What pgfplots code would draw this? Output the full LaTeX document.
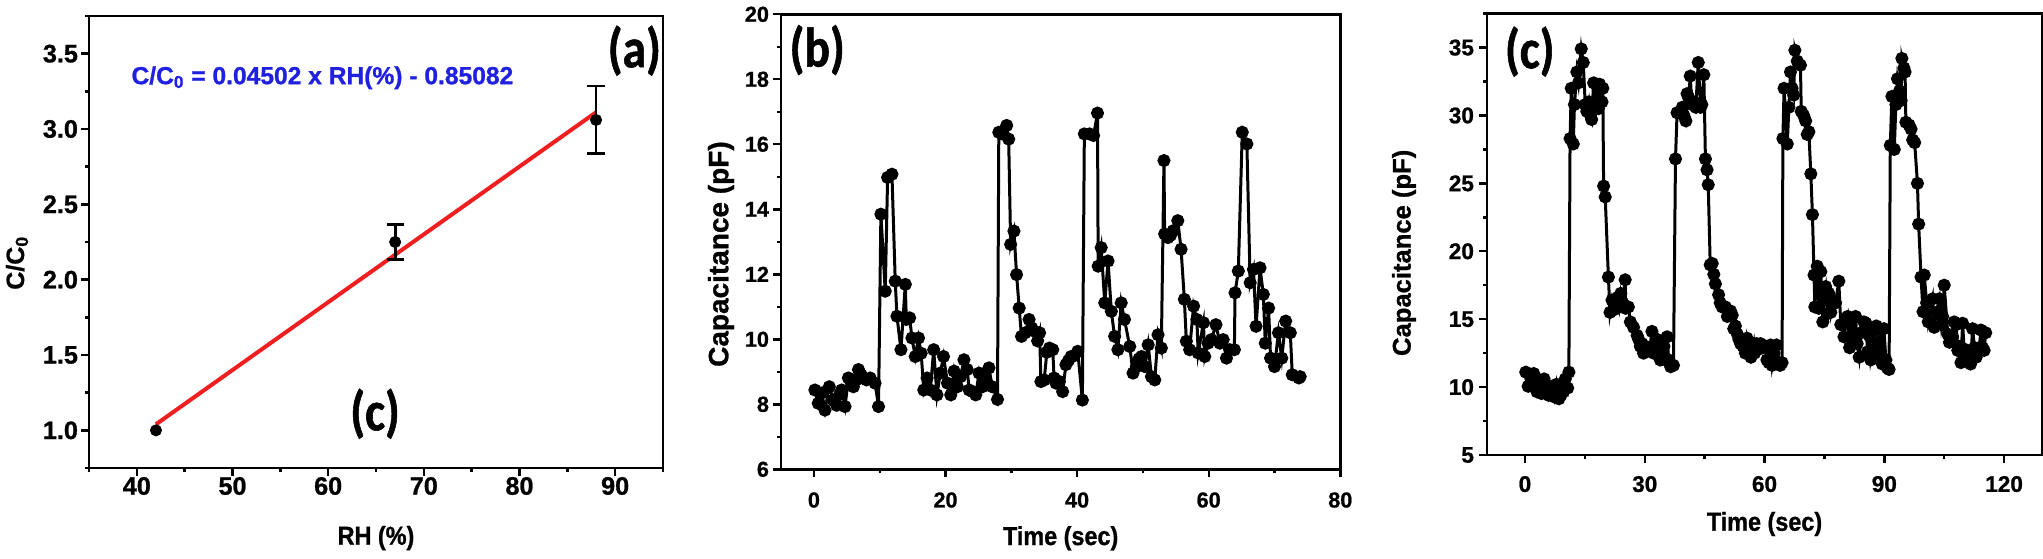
\documentclass[border=0pt]{standalone}
\usepackage{fontspec}
\setmainfont{Liberation Sans}[FakeStretch=0.9, BoldFeatures={FakeBold=1}]
\newfontfamily\plainfont{Liberation Sans}[BoldFeatures={FakeBold=1}]
\newfontfamily\panelfont{Carlito}[FakeStretch=0.85, BoldFeatures={FakeBold=1}]
\usepackage{pgfplots}
\pgfplotsset{compat=1.18}
\usepackage{pgfplotstable}
\definecolor{eqblue}{RGB}{32,32,224}
\definecolor{fitred}{RGB}{240,30,30}

\pgfplotstableread{
t v
0.15 8.44
0.66 8.03
1.2 8.35
1.68 7.82
2.34 8.54
2.95 8.13
3.46 7.97
3.9 8.3
4.22 8.44
4.73 7.93
5.24 8.81
5.6 8.7
6.0 8.54
6.4 8.75
6.77 9.07
7.2 8.9
7.53 8.81
8.0 8.75
8.55 8.81
9.3 8.65
9.82 7.93
10.18 13.85
10.84 11.48
11.2 14.98
11.86 15.08
12.36 11.79
12.62 10.71
13.23 9.68
13.89 11.69
14.04 10.61
14.55 10.66
14.9 10.04
15.4 9.47
15.9 10.04
16.3 9.57
16.7 8.44
17.2 8.81
17.7 8.44
18.2 9.68
18.7 8.29
19.2 8.96
19.7 9.47
20.3 8.65
20.8 8.29
21.3 9.02
21.8 8.54
22.3 8.85
22.8 9.37
23.3 9.07
23.6 8.44
24.1 8.39
24.6 8.29
25.1 8.96
25.6 8.54
26.1 8.75
26.6 9.12
27.1 8.54
27.9 8.15
28.1 16.37
28.6 16.32
29.3 16.58
29.6 16.16
29.9 12.92
30.4 13.33
30.8 11.99
31.2 10.96
31.55 10.09
32.1 10.2
32.7 10.61
33.1 10.35
33.5 10.25
34.0 9.95
34.3 10.2
34.5 8.70
35.0 8.75
35.4 9.6
35.8 9.73
36.3 9.68
36.5 8.81
36.8 8.65
37.3 8.7
37.8 8.39
38.3 9.22
38.7 9.35
39.1 9.47
39.6 9.5
40.1 9.63
40.8 8.13
41.1 16.32
41.9 16.32
42.5 16.27
43.1 16.96
43.2 12.25
43.66 12.82
44.2 11.12
44.7 12.41
45.2 10.86
45.7 10.09
46.2 9.68
46.7 11.12
47.2 10.61
48.0 9.78
48.5 8.96
49.0 9.16
49.4 9.4
49.8 9.47
50.3 9.16
50.8 9.83
51.3 8.85
51.8 8.75
52.3 10.14
52.8 9.73
53.2 15.5
53.3 13.24
53.8 13.13
54.2 13.2
54.6 13.34
55.3 13.65
55.8 12.77
56.3 11.23
56.6 9.94
57.1 9.68
57.7 11.02
58.2 10.61
58.4 9.58
59.2 10.51
59.4 9.47
59.9 9.88
60.4 9.99
61.1 10.45
61.7 9.88
62.2 9.99
62.7 9.42
63.2 9.68
63.9 9.68
64.0 11.43
64.5 12.10
65.1 16.37
65.8 16.01
66.3 11.74
66.8 12.15
67.2 10.40
67.8 12.2
68.3 11.38
68.6 9.88
69.1 10.96
69.4 9.42
70.0 9.16
70.6 10.2
71.1 9.42
71.7 10.56
72.4 10.2
72.7 8.91
73.7 8.81
73.9 8.85
}\datab

\pgfplotstableread{
t v
0.2 11.1
0.8 10.06
1.5 10.6
2.2 11.0
3.0 9.66
3.5 10.2
4.1 9.53
4.8 10.6
5.5 9.93
5.9 9.4
6.8 10.06
7.4 9.27
7.9 10.2
8.5 9.14
9.0 9.4
9.6 9.66
10.1 10.6
10.7 9.93
11.0 11.1
11.3 28.3
11.6 32.0
12.1 27.9
12.4 30.8
13.0 33.2
13.4 32.4
14.1 34.9
14.6 33.9
15.1 30.8
15.5 30.3
16.0 31.0
16.4 30.0
16.7 29.7
17.2 32.4
17.6 30.5
18.0 32.2
18.4 30.5
18.7 32.3
19.3 31.0
19.5 32.0
19.7 24.8
20.1 24.0
20.9 18.1
21.3 15.5
21.8 16.4
22.3 15.7
23.2 16.6
23.6 15.9
24.0 16.9
24.5 16.2
25.1 17.9
25.2 15.8
25.9 15.9
26.4 14.8
27.2 14.4
28.1 13.8
28.5 13.5
28.9 13.0
29.3 13.2
29.7 12.5
30.2 13.0
30.8 12.7
31.3 12.9
31.8 14.1
32.2 12.5
32.7 12.8
33.2 13.5
33.9 12.0
34.3 12.4
34.8 13.0
35.2 12.0
35.6 13.7
36.0 12.0
36.5 11.5
37.2 11.6
37.7 26.8
38.1 30.2
39.0 30.3
39.4 30.6
39.8 30.0
40.3 29.6
40.6 31.6
41.0 31.3
41.4 32.9
41.8 30.8
42.3 31.0
42.8 30.6
43.4 33.9
44.0 30.6
44.3 30.8
44.8 33.0
45.2 26.8
45.6 26.0
45.9 24.9
46.4 19.0
46.9 19.1
47.3 18.3
47.7 17.6
48.5 16.8
48.9 16.2
49.4 15.9
50.2 15.9
50.7 15.2
51.5 15.6
51.9 15.3
52.3 14.3
52.7 14.5
53.2 13.9
53.6 13.5
54.0 13.2
54.6 13.0
55.2 12.5
55.6 13.6
56.1 12.9
56.6 12.2
57.3 13.2
57.5 12.5
58.0 13.2
58.6 12.8
59.0 13.2
59.6 12.9
60.3 13.0
60.6 12.0
61.1 11.8
61.5 13.1
61.9 11.6
62.4 12.5
63.0 13.1
63.6 11.8
63.9 11.6
64.4 11.8
64.6 28.3
64.9 32.0
65.7 27.9
66.1 30.6
66.5 33.2
66.9 32.0
67.3 31.5
67.6 34.8
68.2 34.0
69.0 33.7
69.2 30.3
69.8 30.0
70.3 29.6
70.7 28.6
71.1 28.8
71.6 25.7
72.0 22.7
72.4 18.25
72.6 15.9
73.2 18.9
73.6 15.8
74.1 18.5
74.6 14.8
74.9 16.9
75.3 17.4
75.7 15.4
76.1 16.9
76.6 15.5
77.1 16.4
77.8 16.2
78.6 17.8
79.1 14.6
79.9 13.7
80.4 14.8
80.8 15.2
81.3 12.9
82.0 15.0
82.4 13.5
82.8 15.2
83.2 13.2
83.7 12.2
84.2 14.0
84.9 14.8
85.4 14.7
85.8 12.6
86.2 13.8
86.6 12.0
87.1 12.7
87.5 14.4
88.0 14.5
88.3 13.3
88.7 12.4
89.2 14.2
89.5 11.7
89.9 14.3
90.4 12.0
90.8 11.4
91.2 11.3
91.5 27.8
91.9 31.4
92.5 27.5
92.9 30.8
93.3 32.7
93.8 31.8
94.2 31.1
94.4 34.2
94.9 33.5
95.2 33.2
95.4 29.5
96.2 29.3
96.7 29.0
97.1 28.2
97.6 28.0
98.3 25.0
98.6 22.0
99.2 18.1
99.7 15.55
100.0 18.25
100.6 16.2
101.0 14.8
102.1 16.5
102.5 14.4
103.0 15.5
103.8 16.5
104.3 14.6
104.6 15.2
105.0 17.5
105.9 13.9
106.3 13.3
107.1 13.7
107.5 14.8
108.0 14.6
108.4 12.7
108.8 13.0
109.2 11.8
109.6 14.7
110.0 12.8
110.5 12.4
110.9 12.0
111.6 11.7
112.1 14.3
112.6 12.9
113.0 12.2
113.4 12.7
113.8 12.9
114.2 14.2
114.6 12.9
115.0 12.7
115.4 14.0
}\datac

\pgfplotsset{
  panel/.style={
    scale only axis,
    anchor=south west,
    axis line style={line width=1.35pt},
    tick pos=left,
    tick align=outside,
    major tick length=4pt,
    minor tick length=2pt,
    every tick/.style={black, line width=1.2pt},
    /pgf/number format/assume math mode=true,
    xlabel style={font=\fontsize{13}{15}\selectfont\bfseries, anchor=center},
    ylabel style={anchor=center},
  },
}

\begin{document}
\begin{tikzpicture}
\useasboundingbox (0,0) rectangle (1021.5pt,279pt);

% ---------- panel (a) ----------
\begin{axis}[panel,
  at={(44.5pt,45pt)}, width=287pt, height=226pt,
  xmin=35, xmax=95, ymin=0.75, ymax=3.75,
  xtick={40,50,...,90}, minor xtick={35,45,...,95},
  ytick={1.0,1.5,...,3.5}, minor ytick={0.75,1.25,...,3.75},
  tick label style={font=\fontsize{12.6}{14}\selectfont\bfseries\plainfont},
  xticklabel style={yshift=3pt},
  yticklabel style={xshift=2pt, /pgf/number format/.cd, fixed, fixed zerofill, precision=1},
  xlabel={RH (\%)}, ylabel={C/C\textsubscript{0}},
  xlabel style={at={(axis description cs:0.5,0)}, yshift=-35pt},
  ylabel style={font=\fontsize{12.5}{14}\selectfont\bfseries\plainfont, at={(axis description cs:0,0.454)}, yshift=36pt},
  clip=false,
]
\addplot[fitred, line width=2pt] coordinates {(42,1.04002) (88,3.11094)};
\addplot[black, only marks, mark=*, mark size=2.8pt] coordinates {(42,1.0)};
\addplot[black, only marks, mark=*, mark size=2.8pt,
  error bars/.cd, y dir=both, y explicit,
  error bar style={line width=1.4pt},
  error mark options={rotate=90, mark size=4.3pt, line width=1.4pt}]
  coordinates {(67,2.25) +- (0,0.115) (88,3.06) +- (0,0.225)};
\node[font=\fontsize{12.3}{14}\selectfont\bfseries\plainfont, text=eqblue] at (axis cs:59.4,3.34) {C/C\textsubscript{0} = 0.04502 x RH(\%) - 0.85082};
\node[font=\fontsize{28}{30}\selectfont\bfseries\panelfont] at (axis cs:92,3.52) {(a)};
\node[font=\fontsize{28}{30}\selectfont\bfseries\panelfont] at (axis cs:64.9,1.11) {(c)};
\end{axis}

% ---------- panel (b) ----------
\begin{axis}[panel,
  at={(390.5pt,44.35pt)}, width=279.65pt, height=227.5pt,
  xmin=-5, xmax=80, ymin=6, ymax=20,
  xtick={0,20,...,80}, minor xtick={10,30,...,70},
  ytick={6,8,...,20}, minor ytick={7,9,...,19},
  tick label style={font=\fontsize{10.8}{12}\selectfont\bfseries\plainfont},
  xticklabel style={yshift=-4pt},
  yticklabel style={xshift=1.5pt},
  xlabel={Time (sec)}, ylabel={Capacitance (pF)},
  xlabel style={at={(axis description cs:0.5,0)}, yshift=-34.5pt},
  ylabel style={font=\fontsize{14}{16}\selectfont\bfseries\plainfont, at={(axis description cs:0,0.473)}, yshift=30pt},
  clip=false,
]
\addplot[black, line width=1.5pt, mark=*, mark size=2.5pt, mark options={solid}] table[x=t,y=v] {\datab};
\node[font=\fontsize{28}{30}\selectfont\bfseries\panelfont] at (axis cs:0.5,18.9) {(b)};
\end{axis}

% ---------- panel (c) ----------
\begin{axis}[panel,
  at={(743.5pt,51.5pt)}, width=277.5pt, height=220.7pt,
  xmin=-9.5, xmax=129.5, ymin=5, ymax=37.5,
  xtick={0,30,...,120}, minor xtick={15,45,...,105},
  ytick={5,10,...,35}, minor ytick={7.5,12.5,...,37.5},
  tick label style={font=\fontsize{11.3}{13}\selectfont\bfseries\plainfont},
  xticklabel style={yshift=-3pt},
  yticklabel style={xshift=1pt},
  xlabel={Time (sec)}, ylabel={Capacitance (pF)},
  xlabel style={at={(axis description cs:0.5,0)}, yshift=-34.5pt},
  ylabel style={font=\fontsize{12.8}{15}\selectfont\bfseries\plainfont, at={(axis description cs:0,0.458)}, yshift=41.5pt},
  clip=false,
]
\addplot[black, line width=1.5pt, mark=*, mark size=2.5pt, mark options={solid}] table[x=t,y=v] {\datac};
\node[font=\fontsize{28}{30}\selectfont\bfseries\panelfont] at (axis cs:1.2,34.7) {(c)};
\end{axis}
\end{tikzpicture}
\end{document}
